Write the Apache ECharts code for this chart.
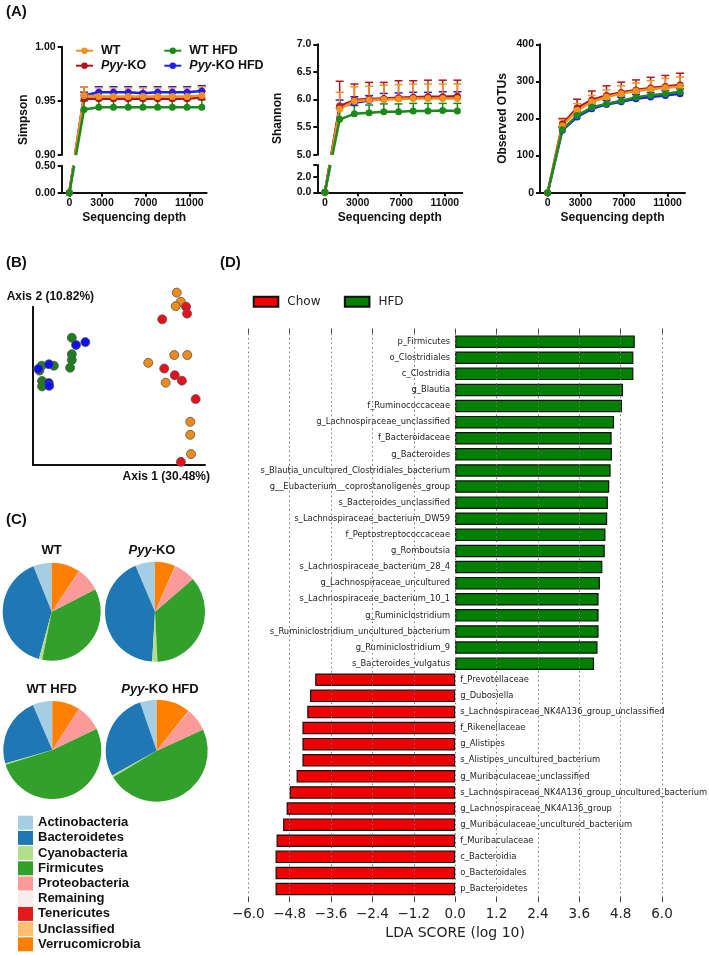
<!DOCTYPE html>
<html><head><meta charset="utf-8">
<script src="https://cdn.jsdelivr.net/npm/echarts@6/dist/echarts.min.js"></script>
<style>html,body{margin:0;padding:0;background:#fff}#c{width:709px;height:955px}</style>
</head><body><div id="c"></div>
<script>
// ================= DATA =================
// (A) rarefaction curves
const depths = [0, 1350, 2700, 4050, 5400, 6750, 8100, 9450, 10800, 12150];
const depthTicks = [0, 3000, 7000, 11000];

const simpsonWT      = [0, 0.955, 0.954, 0.954, 0.954, 0.954, 0.954, 0.954, 0.954, 0.955];
const simpsonWTErr   = [0, 0.008, 0.008, 0.008, 0.008, 0.008, 0.008, 0.008, 0.008, 0.008];
const simpsonKO      = [0, 0.952, 0.952, 0.952, 0.952, 0.952, 0.952, 0.952, 0.952, 0.953];
const simpsonKOErr   = [0, 0.006, 0.006, 0.006, 0.006, 0.006, 0.006, 0.006, 0.006, 0.006];
const simpsonWTHFD   = [0, 0.942, 0.944, 0.944, 0.944, 0.944, 0.944, 0.944, 0.944, 0.944];
const simpsonWTHFDErr= [0, 0.008, 0.007, 0.007, 0.007, 0.007, 0.007, 0.007, 0.007, 0.007];
const simpsonKOHFD   = [0, 0.955, 0.958, 0.958, 0.958, 0.957, 0.958, 0.958, 0.958, 0.959];
const simpsonKOHFDErr= [0, 0.008, 0.005, 0.005, 0.005, 0.006, 0.005, 0.005, 0.005, 0.005];

const shannonWT      = [0, 5.83, 5.97, 5.99, 6.00, 6.01, 6.02, 6.02, 6.02, 6.02];
const shannonWTErr   = [0, 0.30, 0.26, 0.25, 0.26, 0.26, 0.26, 0.26, 0.26, 0.26];
const shannonKO      = [0, 5.88, 5.99, 6.01, 6.02, 6.03, 6.04, 6.05, 6.05, 6.06];
const shannonKOErr   = [0, 0.45, 0.29, 0.30, 0.29, 0.31, 0.30, 0.30, 0.30, 0.29];
const shannonWTHFD   = [0, 5.64, 5.74, 5.76, 5.78, 5.78, 5.79, 5.79, 5.80, 5.79];
const shannonWTHFDErr= [0, 0.21, 0.15, 0.14, 0.14, 0.14, 0.14, 0.14, 0.13, 0.14];
const shannonKOHFD   = [0, 5.86, 5.94, 5.98, 6.01, 6.02, 6.03, 6.03, 6.04, 6.04];
const shannonKOHFDErr= [0, 0.13, 0.11, 0.09, 0.10, 0.10, 0.10, 0.10, 0.10, 0.10];

const otuWT      = [0, 180, 222, 245, 258, 267, 274, 279, 283, 286];
const otuWTErr   = [0, 17, 18, 17, 19, 21, 22, 23, 25, 26];
const otuKO      = [0, 185, 228, 250, 262, 270, 277, 282, 286, 290];
const otuKOErr   = [0, 15, 24, 24, 26, 28, 27, 29, 30, 32];
const otuWTHFD   = [0, 170, 208, 230, 240, 248, 257, 263, 267, 272];
const otuWTHFDErr= [0, 9, 11, 12, 13, 13, 14, 14, 14, 15];
const otuKOHFD   = [0, 168, 204, 226, 238, 245, 253, 258, 262, 267];
const otuKOHFDErr= [0, 8, 10, 10, 11, 12, 12, 12, 13, 13];

// (B) PCoA coordinates [Axis 1, Axis 2]
const pcoaWT = [[28.5,29.9],[30.2,26.7],[28.1,25.2],[27.5,8.2],[32.8,8.2],[16.9,5.5],[24.0,-1.4],[34.0,-15.0],[34.0,-19.5],[34.3,-26.2]];
const pcoaKO = [[32.3,25.0],[32.7,22.6],[22.6,20.6],[23.4,3.5],[27.7,1.2],[30.6,-0.7],[36.2,-7.1],[30.2,-28.9]];
const pcoaWTHFD = [[-14.2,14.2],[-14.2,8.5],[-14.2,6.5],[-14.9,3.8],[-26.5,4.5],[-27.4,2.8],[-21.5,4.5],[-26.3,-0.8],[-26.3,-2.7]];
const pcoaKOHFD = [[-8.7,12.7],[-12.5,11.7],[-23.5,5.0],[-27.8,3.4],[-23.6,-1.5],[-23.4,-2.5]];

// (C) phylum composition (%)
const phyla = ['Actinobacteria','Bacteroidetes','Cyanobacteria','Firmicutes','Proteobacteria','Remaining','Tenericutes','Unclassified','Verrucomicrobia'];
const pieWT    = [6.1, 39.7, 1.1, 35.7, 7.8, 0.1, 0.05, 0.05, 9.4];
const pieKO    = [6.4, 42.8, 1.7, 35.6, 6.9, 0.1, 0.05, 0.05, 6.6];
const pieWTHFD = [6.5, 23.0, 0.4, 52.3, 8.6, 0.1, 0.05, 0.05, 9.1];
const pieKOHFD = [5.3, 27.8, 0.6, 48.1, 7.3, 0.1, 0.05, 0.05, 10.7];

// (D) LEfSe
const hfdTaxa = ['p_Firmicutes','o_Clostridiales','c_Clostridia','g_Blautia','f_Ruminococcaceae','g_Lachnospiraceae_unclassified','f_Bacteroidaceae','g_Bacteroides','s_Blautia_uncultured_Clostridiales_bacterium','g__Eubacterium__coprostanoligenes_group','s_Bacteroides_unclassified','s_Lachnospiraceae_bacterium_DW59','f_Peptostreptococcaceae','g_Romboutsia','s_Lachnospiraceae_bacterium_28_4','g_Lachnospiraceae_uncultured','s_Lachnospiraceae_bacterium_10_1','g_Ruminiclostridium','s_Ruminiclostridium_uncultured_bacterium','g_Ruminiclostridium_9','s_Bacteroides_vulgatus'];
const hfdScores = [5.21, 5.17, 5.17, 4.87, 4.84, 4.61, 4.54, 4.55, 4.51, 4.47, 4.43, 4.41, 4.36, 4.34, 4.27, 4.20, 4.16, 4.16, 4.16, 4.13, 4.03];
const chowTaxa = ['f_Prevotellaceae','g_Dubosiella','s_Lachnospiraceae_NK4A136_group_unclassified','f_Rikenellaceae','g_Alistipes','s_Alistipes_uncultured_bacterium','g_Muribaculaceae_unclassified','s_Lachnospiraceae_NK4A136_group_uncultured_bacterium','g_Lachnospiraceae_NK4A136_group','g_Muribaculaceae_uncultured_bacterium','f_Muribaculaceae','c_Bacteroidia','o_Bacteroidales','p_Bacteroidetes'];
const chowScores = [-4.06, -4.21, -4.29, -4.43, -4.43, -4.43, -4.60, -4.80, -4.89, -4.99, -5.18, -5.21, -5.21, -5.21];

// ================= STYLE =================
const FA = 'Liberation Sans, Arial, sans-serif';
const FD = 'DejaVu Sans, sans-serif';
const COL = { 'WT':'#F39020', 'Pyy-KO':'#B0141C', 'WT HFD':'#1B8A1B', 'Pyy-KO HFD':'#1E1EF5' };
const SCOL = { WT:'#F08A1A', KO:'#E8101A', WTHFD:'#1E7E1E', KOHFD:'#1010EE' };
const phylaColors = ['#a6cee3','#1f78b4','#b2df8a','#33a02c','#fb9a99','#f7eded','#e31a1c','#fdbf6f','#ff7f00'];

const XMIN = -700, XMAX = 12600, PW = 145;
const grids = [
  {left:61.7, top:46.7, width:PW, height:108.3},   // 0 Simpson upper
  {left:61.7, top:165.7, width:PW, height:27},     // 1 Simpson lower
  {left:317.3, top:44.3, width:PW, height:110.4},  // 2 Shannon upper
  {left:317.3, top:165, width:PW, height:27.3},    // 3 Shannon lower
  {left:540, top:44.3, width:PW, height:148.4},    // 4 OTUs
  {left:33, top:306.7, width:172, height:158.3},   // 5 PCoA
  {left:248.3, top:333.6, width:413.7, height:563.5} // 6 LEfSe
];

const blk = {color:'#111', width:2};
function xDepth(gi, showAxis) {
  if (!showAxis) return {type:'value', gridIndex:gi, min:XMIN, max:XMAX, show:false};
  return {type:'value', gridIndex:gi, min:XMIN, max:XMAX,
    axisLine:{show:true, onZero:false, lineStyle:blk},
    axisTick:{show:true, customValues:depthTicks, length:4, lineStyle:blk},
    axisLabel:{show:true, customValues:depthTicks, formatter: v => String(v), fontSize:10.5, fontWeight:'bold', fontFamily:FA, color:'#111', margin:5},
    splitLine:{show:false},
    name:'Sequencing depth', nameLocation:'middle', nameGap:19,
    nameTextStyle:{fontSize:12, fontWeight:'bold', fontFamily:FA, color:'#111'}};
}
function yVal(gi, min, max, opts) {
  return Object.assign({type:'value', gridIndex:gi, min:min, max:max,
    axisLine:{show:true, onZero:false, lineStyle:blk},
    axisTick:{show:true, length:4, lineStyle:blk},
    axisLabel:{fontSize:10.5, fontWeight:'bold', fontFamily:FA, color:'#111', margin:6},
    splitLine:{show:false}}, opts);
}

const xAxes = [
  xDepth(0,false), xDepth(1,true), xDepth(2,false), xDepth(3,true), xDepth(4,true),
  {type:'value', gridIndex:5, min:-30, max:40, axisLine:{show:true,onZero:false,lineStyle:blk}, axisTick:{show:false}, axisLabel:{show:false}, splitLine:{show:false}},
  {type:'value', gridIndex:6, position:'bottom', min:-6, max:6, interval:1.2, z:3,
    axisLine:{show:false}, axisTick:{show:true, length:5, lineStyle:{color:'#444', width:1}},
    axisLabel:{fontFamily:FD, fontSize:13.5, color:'#222', margin:10,
      formatter: v => (Math.abs(v) < 1e-9 ? '0.0' : (v < 0 ? '\u2212' : '') + Math.abs(v).toFixed(1))},
    splitLine:{show:true, lineStyle:{type:[1.5,3], color:'#777', width:1}},
    name:'LDA SCORE (log 10)', nameLocation:'middle', nameGap:28,
    nameTextStyle:{fontFamily:FD, fontSize:14, color:'#222'}},
  {type:'value', gridIndex:6, position:'top', min:-6, max:6, interval:1.2,
    axisLine:{show:false}, axisTick:{show:true, length:5, lineStyle:{color:'#444', width:1}},
    axisLabel:{show:false}, splitLine:{show:false}}
];
const yAxes = [
  yVal(0, 0.90, 1.00, {interval:0.05, axisLabel:{fontSize:10.5, fontWeight:'bold', fontFamily:FA, color:'#111', margin:6, formatter:v=>v.toFixed(2)}}),
  yVal(1, 0, 0.5, {interval:0.5, axisLabel:{fontSize:10.5, fontWeight:'bold', fontFamily:FA, color:'#111', margin:6, formatter:v=>v.toFixed(2)}}),
  yVal(2, 5.0, 7.0, {interval:0.5, axisLabel:{fontSize:10.5, fontWeight:'bold', fontFamily:FA, color:'#111', margin:6, formatter:v=>v.toFixed(1)}}),
  yVal(3, 0, 3.5, {axisTick:{show:true, length:4, lineStyle:blk, customValues:[0,2,3.5]},
    axisLabel:{customValues:[0,2], fontSize:10.5, fontWeight:'bold', fontFamily:FA, color:'#111', margin:6, formatter:v=>v.toFixed(1)}}),
  yVal(4, 0, 400, {interval:100}),
  {type:'value', gridIndex:5, min:-30, max:25, axisLine:{show:true,onZero:false,lineStyle:blk}, axisTick:{show:false}, axisLabel:{show:false}, splitLine:{show:false}},
  {type:'category', gridIndex:6, data:hfdTaxa.concat(chowTaxa), inverse:true, show:false}
];

// ================= SERIES =================
function errRender(color) {
  return function (params, api) {
    const x = api.value(0), y = api.value(1), e = api.value(2);
    const p0 = api.coord([x, y]), p1 = api.coord([x, y + e]);
    return {type:'group', children:[
      {type:'line', shape:{x1:p0[0], y1:p0[1], x2:p1[0], y2:p1[1]}, style:{stroke:color, lineWidth:1.5}},
      {type:'line', shape:{x1:p1[0]-4, y1:p1[1], x2:p1[0]+4, y2:p1[1]}, style:{stroke:color, lineWidth:1.5}}
    ]};
  };
}
// from, to: index range of points drawn in that grid
function lineS(name, xi, yi, vals, from, to) {
  return {type:'line', name:name, xAxisIndex:xi, yAxisIndex:yi, clip:true, silent:true,
    symbol:'circle', symbolSize:7, showAllSymbol:true,
    lineStyle:{width:2.5, color:COL[name]}, itemStyle:{color:COL[name]},
    data: depths.map((d, i) => [d, vals[i]]).slice(from, to)};
}
function errS(name, xi, yi, vals, errs) {
  return {type:'custom', name:'err ' + name, xAxisIndex:xi, yAxisIndex:yi, silent:true,
    renderItem: errRender(COL[name]), encode:{x:0, y:1},
    data: depths.map((d, i) => [d, vals[i], errs[i]]).slice(1)};
}
const order = ['Pyy-KO HFD','Pyy-KO','WT','WT HFD'];
const series = [];
const simp = {'Pyy-KO HFD':[simpsonKOHFD,simpsonKOHFDErr], 'Pyy-KO':[simpsonKO,simpsonKOErr], 'WT':[simpsonWT,simpsonWTErr], 'WT HFD':[simpsonWTHFD,simpsonWTHFDErr]};
const shan = {'Pyy-KO HFD':[shannonKOHFD,shannonKOHFDErr], 'Pyy-KO':[shannonKO,shannonKOErr], 'WT':[shannonWT,shannonWTErr], 'WT HFD':[shannonWTHFD,shannonWTHFDErr]};
const otu  = {'Pyy-KO HFD':[otuKOHFD,otuKOHFDErr], 'Pyy-KO':[otuKO,otuKOErr], 'WT':[otuWT,otuWTErr], 'WT HFD':[otuWTHFD,otuWTHFDErr]};
order.forEach(n => {
  series.push(errS(n, 0, 0, simp[n][0], simp[n][1]));
  series.push(lineS(n, 0, 0, simp[n][0], 1));
  series.push(lineS(n, 1, 1, simp[n][0], 0, 1));
  series.push(errS(n, 2, 2, shan[n][0], shan[n][1]));
  series.push(lineS(n, 2, 2, shan[n][0], 1));
  series.push(lineS(n, 3, 3, shan[n][0], 0, 1));
  series.push(errS(n, 4, 4, otu[n][0], otu[n][1]));
  series.push(lineS(n, 4, 4, otu[n][0], 0));
});

function scat(name, data, color) {
  return {type:'scatter', name:name, xAxisIndex:5, yAxisIndex:5, clip:false, silent:true,
    symbolSize:9, itemStyle:{color:color, borderColor:'#555', borderWidth:0.8, opacity:1}, data:data};
}
series.push(scat('PCoA WT', pcoaWT, SCOL.WT));
series.push(scat('PCoA Pyy-KO', pcoaKO, SCOL.KO));
series.push(scat('PCoA WT HFD', pcoaWTHFD, SCOL.WTHFD));
series.push(scat('PCoA Pyy-KO HFD', pcoaKOHFD, SCOL.KOHFD));

function pieS(name, cx, cy, r, vals) {
  return {type:'pie', name:name, center:[cx, cy], radius:r, clockwise:false, startAngle:90,
    silent:true, label:{show:false}, labelLine:{show:false}, color:phylaColors,
    itemStyle:{borderWidth:0}, emphasis:{disabled:true},
    data: phyla.map((p, i) => ({name:p, value:vals[i]}))};
}
series.push(pieS('WT pie', 51.7, 611.7, 49, pieWT));
series.push(pieS('Pyy-KO pie', 155, 611.7, 50, pieKO));
series.push(pieS('WT HFD pie', 52.3, 750, 49, pieWTHFD));
series.push(pieS('Pyy-KO HFD pie', 156.7, 750.7, 51, pieKOHFD));

const barLabel = {show:true, formatter:'{b}', fontFamily:FD, fontSize:8.4, color:'#222', distance:5};
series.push({type:'bar', name:'HFD', xAxisIndex:6, yAxisIndex:6, barWidth:12.5, barGap:'-100%', silent:true,
  itemStyle:{color:'#008000', borderColor:'#111', borderWidth:1.2},
  label:Object.assign({position:'left'}, barLabel),
  data: hfdScores.concat(chowTaxa.map(() => '-'))});
series.push({type:'bar', name:'Chow', xAxisIndex:6, yAxisIndex:6, barWidth:12.5, barGap:'-100%', silent:true,
  itemStyle:{color:'#F00000', borderColor:'#111', borderWidth:1.2},
  label:Object.assign({position:'right'}, barLabel),
  data: hfdTaxa.map(() => '-').concat(chowScores)});

// ================= TEXT =================
function T(x, y, text, size, opts) {
  opts = opts || {};
  const el = {type:'text', x:x, y:y, rotation:opts.rot || 0, silent:true,
    style:{text:text, fontSize:size, fontWeight:opts.weight || 'bold', fontFamily:opts.family || FA,
      fill:'#111', align:opts.align || 'center', verticalAlign:'middle',
      textAlign:opts.align || 'center', textVerticalAlign:'middle'}};
  if (opts.rich) el.style.rich = opts.rich;
  return el;
}
const italic13 = {i:{fontStyle:'italic', fontWeight:'bold', fontSize:13, fontFamily:FA, fill:'#111'}};
const graphics = [
  T(6, 12.3, '(A)', 15, {align:'left'}),
  T(6, 263.3, '(B)', 15, {align:'left'}),
  T(6, 520, '(C)', 15, {align:'left'}),
  T(220, 263.3, '(D)', 15, {align:'left'}),
  T(24, 119.7, 'Simpson', 12, {rot:Math.PI/2}),
  T(278, 118.3, 'Shannon', 12, {rot:Math.PI/2}),
  T(503, 118.5, 'Observed OTUs', 12, {rot:Math.PI/2}),
  T(6.7, 296.7, 'Axis 2 (10.82%)', 12, {align:'left'}),
  T(210, 476.7, 'Axis 1 (30.48%)', 12, {align:'right'}),
  T(51.7, 550, 'WT', 13),
  T(152, 550, '{i|Pyy}-KO', 13, {rich:italic13}),
  T(51.7, 689.3, 'WT HFD', 13),
  T(160, 689.3, '{i|Pyy}-KO HFD', 13, {rich:italic13})
];

const legendA = {orient:'vertical', itemWidth:17, itemHeight:8, itemGap:1, padding:0, selectedMode:false,
  textStyle:{fontFamily:FA, fontWeight:'bold', fontSize:12.5, color:'#111', lineHeight:14, padding:[0,0,0,3],
    rich:{i:{fontStyle:'italic', fontWeight:'bold', fontSize:12.5, fontFamily:FA, color:'#111'}}},
  formatter: n => n.replace('Pyy', '{i|Pyy}')};

const option = {
  animation:false,
  backgroundColor:'#fff',
  grid: grids,
  xAxis: xAxes,
  yAxis: yAxes,
  legend: [
    Object.assign({data:['WT','Pyy-KO'], left:75, top:43.7}, legendA),
    Object.assign({data:['WT HFD','Pyy-KO HFD'], left:163.3, top:43.7}, legendA),
    {data:phyla, orient:'vertical', left:18, top:815.7, padding:0, itemWidth:15, itemHeight:14, itemGap:1.2, icon:'rect', selectedMode:false,
      textStyle:{fontFamily:FA, fontWeight:'bold', fontSize:13, color:'#111', lineHeight:14}},
    {data:['Chow','HFD'], left:252.7, top:294.7, padding:0, itemWidth:24.6, itemHeight:10, itemGap:23.4, icon:'rect', selectedMode:false,
      textStyle:{fontFamily:FD, fontSize:12, color:'#222', lineHeight:14, padding:[0,0,0,4]}}
  ],
  graphic: graphics,
  series: series
};
const chart = echarts.init(document.getElementById('c'), null, {renderer:'canvas', width:709, height:955});
chart.setOption(option);

// Segment from the depth-0 point (lower part of broken axis) to the first
// rarefied point (upper part), drawn straight in pixel space and interrupted by the break.
function crossBreak(gU, gL, vals, yTopLower, yBottomUpper, color) {
  const p0 = chart.convertToPixel({gridIndex:gL}, [depths[0], vals[0]]);
  const p1 = chart.convertToPixel({gridIndex:gU}, [depths[1], vals[1]]);
  const yL = chart.convertToPixel({gridIndex:gL}, [0, yTopLower])[1];
  const yU = chart.convertToPixel({gridIndex:gU}, [0, yBottomUpper])[1];
  const at = y => p0[0] + (p1[0] - p0[0]) * (y - p0[1]) / (p1[1] - p0[1]);
  const st = {stroke:color, lineWidth:2.5};
  return [
    {type:'line', silent:true, z:1, shape:{x1:p0[0], y1:p0[1], x2:at(yL), y2:yL}, style:st},
    {type:'line', silent:true, z:1, shape:{x1:at(yU), y1:yU, x2:p1[0], y2:p1[1]}, style:st}
  ];
}
let segs = [];
order.forEach(n => {
  segs = segs.concat(crossBreak(0, 1, simp[n][0], 0.5, 0.9, COL[n]));
  segs = segs.concat(crossBreak(2, 3, shan[n][0], 3.5, 5.0, COL[n]));
});
chart.setOption({graphic: graphics.concat(segs)});
</script></body></html>
